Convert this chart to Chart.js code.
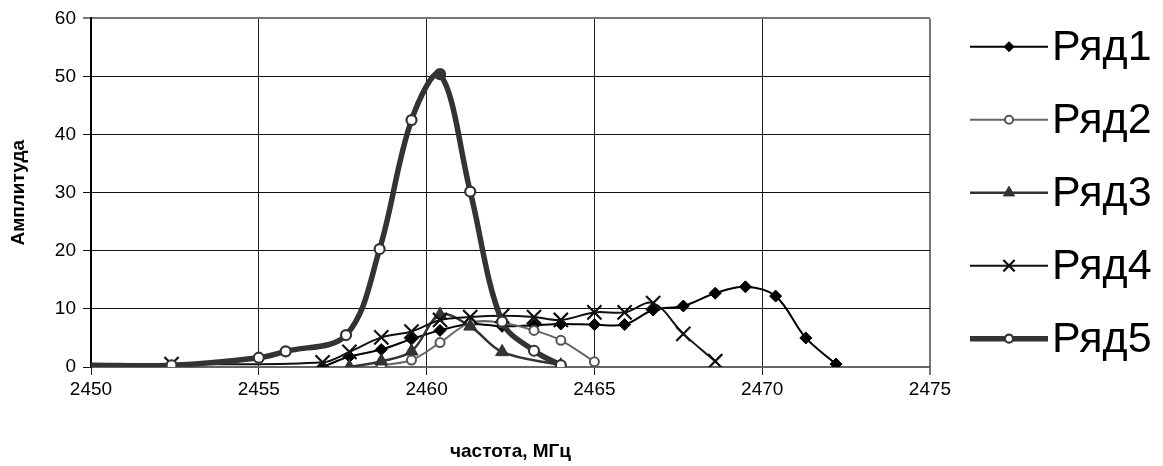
<!DOCTYPE html>
<html>
<head>
<meta charset="utf-8">
<script src="https://cdn.jsdelivr.net/npm/chart.js@4.4.1/dist/chart.umd.min.js"></script>
<style>
  html, body { margin: 0; padding: 0; background: #fff; }
  #chart { display: block; }
</style>
</head>
<body>
<canvas id="chart" width="1163" height="466"></canvas>
<script>
// values (frequency in MHz, amplitude)
const freqTicks = [2450, 2455, 2460, 2465, 2470, 2475];
const ampTicks = [0, 10, 20, 30, 40, 50, 60];

const freq1 = [2456.9, 2457.7, 2458.65, 2459.55, 2460.4, 2461.3, 2462.25, 2463.2, 2464.0, 2465.0, 2465.9, 2466.75, 2467.65, 2468.6, 2469.5, 2470.4, 2471.3, 2472.2];
const ryad1 = [0, 1.8, 3.0, 4.8, 6.3, 7.4, 7.0, 7.2, 7.4, 7.3, 7.3, 9.8, 10.5, 12.7, 13.8, 12.2, 5.0, 0.5];

const freq2 = [2458.65, 2459.55, 2460.4, 2461.3, 2462.25, 2463.2, 2464.0, 2465.0];
const ryad2 = [0.3, 1.2, 4.2, 7.6, 7.6, 6.3, 4.6, 0.9];

const freq3 = [2457.7, 2458.65, 2459.55, 2460.4, 2461.3, 2462.25, 2464.0];
const ryad3 = [0, 1.0, 2.7, 9.0, 7.0, 2.6, 0.3];

const freq4 = [2452.4, 2456.9, 2457.7, 2458.65, 2459.55, 2460.4, 2461.3, 2462.25, 2463.2, 2464.0, 2465.0, 2465.9, 2466.75, 2467.65, 2468.6];
const ryad4 = [0.5, 0.8, 2.6, 5.1, 6.1, 8.1, 8.6, 8.8, 8.6, 8.1, 9.4, 9.4, 11.0, 5.7, 1.0];

const freq5 = [2450, 2452.4, 2455.0, 2455.8, 2457.6, 2458.6, 2459.55, 2460.4, 2461.3, 2462.25, 2463.2, 2464.0];
const ryad5 = [0.3, 0.3, 1.6, 2.7, 5.5, 20.3, 42.5, 50.4, 30.2, 7.8, 2.8, 0.3];

const seriesNames = ["Ряд1", "Ряд2", "Ряд3", "Ряд4", "Ряд5"];

const FONT = "'Liberation Sans', Arial, sans-serif";

function toPoints(xs, ys) {
  return xs.map((x, i) => ({ x, y: ys[i] }));
}

// legend on the right: line + marker + big label
const sideLegend = {
  id: "sideLegend",
  afterDraw(chart) {
    const ctx = chart.ctx;
    const area = chart.chartArea;
    const step = 73;
    const mid = (area.top + area.bottom) / 2;
    const x0 = area.right + 40;
    chart.data.datasets.forEach((ds, i) => {
      const y = mid + (i - 2) * step;
      ctx.save();
      ctx.strokeStyle = ds.borderColor;
      ctx.lineWidth = ds.borderWidth;
      ctx.beginPath();
      ctx.moveTo(x0, y);
      ctx.lineTo(x0 + 78, y);
      ctx.stroke();
      ctx.fillStyle = ds.legendFill;
      ctx.strokeStyle = ds.pointBorderColor;
      ctx.lineWidth = ds.pointBorderWidth;
      Chart.helpers.drawPoint(ctx, {
        pointStyle: ds.pointStyle,
        radius: ds.legendRadius,
        borderWidth: ds.pointBorderWidth,
        rotation: 0,
      }, x0 + 39, y);
      ctx.fillStyle = "#000";
      ctx.font = "43px " + FONT;
      ctx.textBaseline = "middle";
      ctx.fillText(ds.label, x0 + 82, y + 1);
      ctx.restore();
    });
  },
};

const peak5 = Math.max(...ryad5);

const chart = new Chart(document.getElementById("chart").getContext("2d"), {
  type: "line",
  data: {
    datasets: [
      {
        label: seriesNames[0],
        data: toPoints(freq1, ryad1),
        borderColor: "#000",
        borderWidth: 2,
        pointStyle: "rectRot",
        pointRadius: 6,
        legendRadius: 5,
        legendFill: "#000",
        pointBackgroundColor: "#000",
        pointBorderColor: "#000",
        pointBorderWidth: 1,
        tension: 0.35,
        order: 4,
      },
      {
        label: seriesNames[1],
        data: toPoints(freq2, ryad2),
        borderColor: "#666",
        borderWidth: 2,
        pointStyle: "circle",
        pointRadius: 4.5,
        legendRadius: 4,
        legendFill: "#fff",
        pointBackgroundColor: "#fff",
        pointBorderColor: "#555",
        pointBorderWidth: 2,
        tension: 0.35,
        order: 3,
      },
      {
        label: seriesNames[2],
        data: toPoints(freq3, ryad3),
        borderColor: "#333",
        borderWidth: 2.5,
        pointStyle: "triangle",
        pointRadius: 7.5,
        legendRadius: 6.5,
        legendFill: "#333",
        pointBackgroundColor: "#333",
        pointBorderColor: "#333",
        pointBorderWidth: 1,
        tension: 0.35,
        order: 2,
      },
      {
        label: seriesNames[3],
        data: toPoints(freq4, ryad4),
        borderColor: "#111",
        borderWidth: 2,
        pointStyle: "crossRot",
        pointRadius: 10,
        legendRadius: 8,
        legendFill: "#111",
        pointBackgroundColor: "#111",
        pointBorderColor: "#111",
        pointBorderWidth: 2.2,
        tension: 0.35,
        order: 1,
      },
      {
        label: seriesNames[4],
        data: toPoints(freq5, ryad5),
        borderColor: "#333",
        borderWidth: 5.5,
        pointStyle: "circle",
        pointRadius: (c) => (c.dataIndex === 0 ? 0 : 5),
        legendRadius: 4,
        legendFill: "#fff",
        pointBackgroundColor: (c) => (c.raw && c.raw.y === peak5 ? "#333" : "#fff"),
        pointBorderColor: "#333",
        pointBorderWidth: 2.2,
        tension: 0.35,
        order: 0,
      },
    ],
  },
  options: {
    responsive: false,
    animation: false,
    devicePixelRatio: 1,
    layout: { padding: { top: 17, right: 233, left: 0, bottom: 0 } },
    plugins: {
      legend: { display: false },
      tooltip: { enabled: false },
    },
    scales: {
      x: {
        type: "linear",
        min: 2450,
        max: 2475,
        afterBuildTicks: (scale) => {
          scale.ticks = freqTicks.map((v) => ({ value: v }));
        },
        afterFit: (scale) => {
          scale.height = 99;
        },
        grid: {
          color: (c) => (c.tick && c.tick.value === 2475 ? "#777" : "#222"),
          lineWidth: (c) => (c.tick && c.tick.value === 2475 ? 2 : 1),
          tickLength: 8,
        },
        border: { color: "#666", width: 2 },
        ticks: {
          color: "#000",
          padding: 3,
          maxRotation: 0,
          font: { family: FONT, size: 19 },
          callback: (v) => String(v),
        },
        title: {
          display: true,
          text: "частота, МГц",
          color: "#000",
          font: { family: FONT, size: 19, weight: "bold" },
          padding: { top: 0, bottom: 3 },
        },
      },
      y: {
        min: 0,
        max: 60,
        afterBuildTicks: (scale) => {
          scale.ticks = ampTicks.map((v) => ({ value: v }));
        },
        afterFit: (scale) => {
          scale.width = 91;
        },
        grid: {
          color: (c) => (c.tick && c.tick.value === 60 ? "#777" : "#111"),
          lineWidth: (c) => (c.tick && c.tick.value === 60 ? 2 : 1),
          tickLength: 8,
        },
        border: { color: "#000", width: 2 },
        ticks: {
          color: "#000",
          padding: 7,
          font: { family: FONT, size: 19 },
        },
        title: {
          display: true,
          text: "Амплитуда",
          color: "#000",
          font: { family: FONT, size: 19, weight: "bold" },
          padding: { top: 7, bottom: 0 },
        },
      },
    },
  },
  plugins: [sideLegend],
});
</script>
</body>
</html>
